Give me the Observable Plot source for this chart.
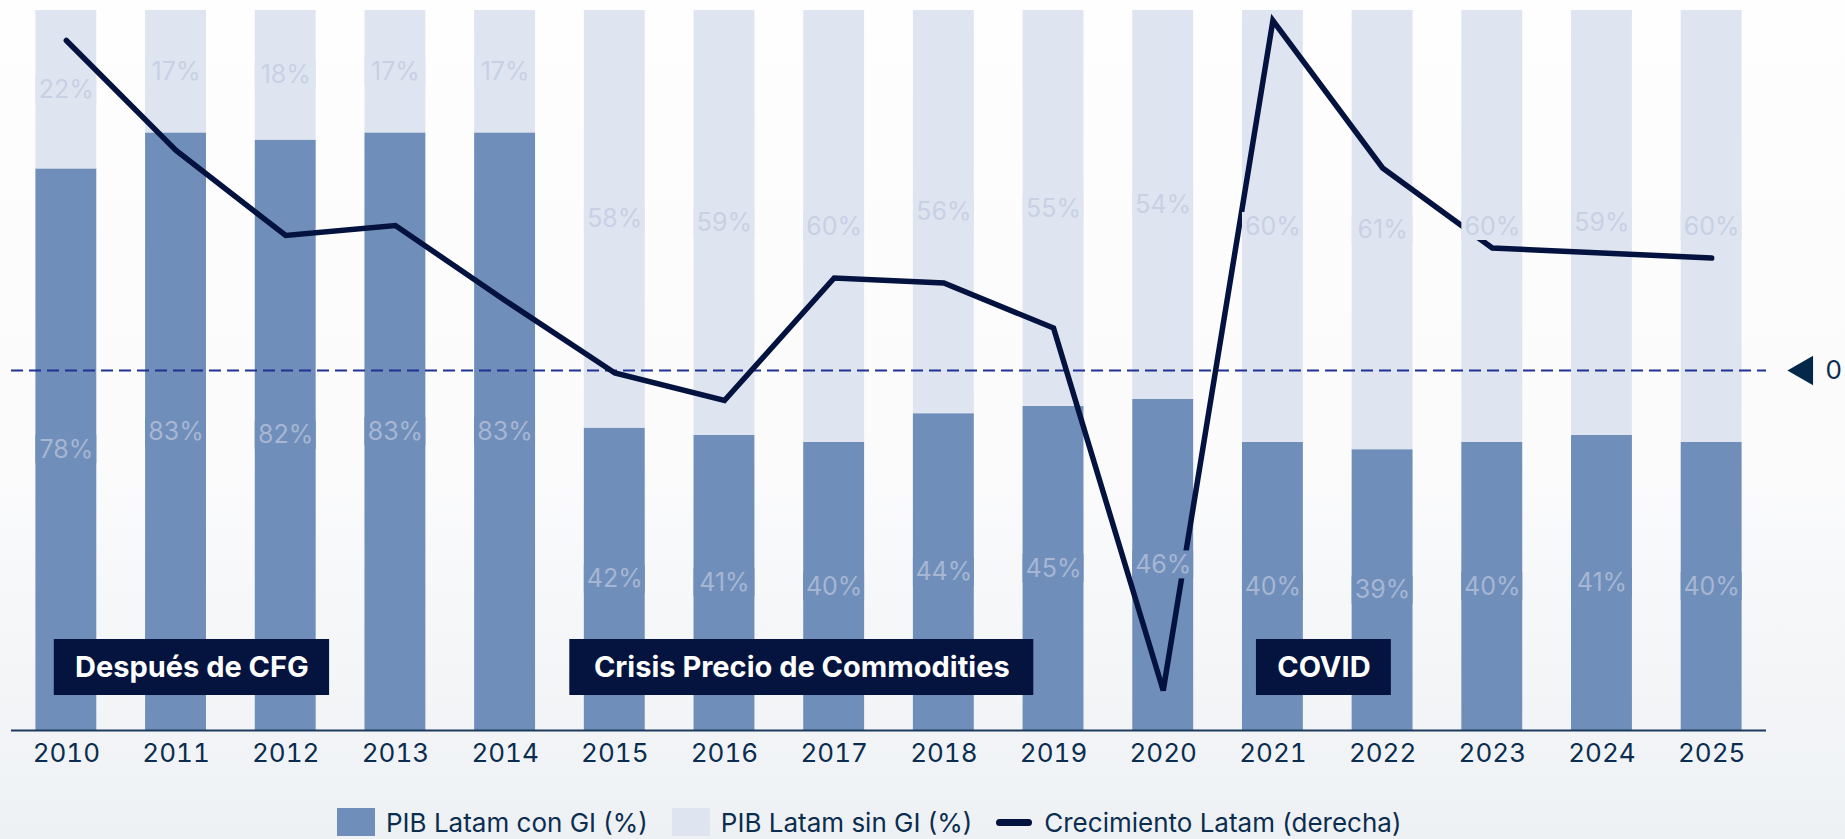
<!DOCTYPE html>
<html>
<head>
<meta charset="utf-8">
<script src="https://cdn.jsdelivr.net/npm/d3@7"></script>
<script src="https://cdn.jsdelivr.net/npm/@observablehq/plot@0.6"></script>
<style>
html, body { margin: 0; padding: 0; }
body {
  width: 1845px; height: 839px; overflow: hidden;
  background: linear-gradient(to bottom, #fefefe 0%, #fbfbfc 55%, #eef1f4 100%);
  font-family: Inter, "Noto Sans", sans-serif;
}
#chart { position: relative; width: 1845px; height: 790px; }
#chart svg { position: absolute; left: 0; top: 0; overflow: visible; }
#legend {
  position: absolute; left: 337px; top: 808px; height: 28px;
  display: flex; align-items: center;
  font-size: 26px; color: #0b2d4f; white-space: nowrap;
}
.item { display: flex; align-items: center; margin-right: 24px; }
.sw { width: 38px; height: 28px; margin-right: 11px; }
.ln { width: 36px; height: 7px; border-radius: 4px; background: #04123f; margin-right: 12px; }
</style>
</head>
<body>
<div id="chart"></div>
<div id="legend"></div>
<script>
// ---------------- data ----------------
const years  = [2010, 2011, 2012, 2013, 2014, 2015, 2016, 2017, 2018, 2019, 2020, 2021, 2022, 2023, 2024, 2025];
const conGI  = [78, 83, 82, 83, 83, 42, 41, 40, 44, 45, 46, 40, 39, 40, 41, 40];
const sinGI  = [22, 17, 18, 17, 17, 58, 59, 60, 56, 55, 54, 60, 61, 60, 59, 60];
const growth = [6.6, 4.4, 2.7, 2.9, 1.4, -0.05, -0.6, 1.85, 1.75, 0.85, -6.4, 7.0, 4.05, 2.45, 2.35, 2.25];
const seriesNames = ["PIB Latam con GI (%)", "PIB Latam sin GI (%)", "Crecimiento Latam (derecha)"];
const annLabels = ["Después de CFG", "Crisis Precio de Commodities", "COVID"];
const annFrom   = [2009.89, 2014.59, 2020.85];
const annTo     = [2012.40, 2018.82, 2022.08];

// ---------------- style ----------------
const W = 1845, H = 790;
const M = {top: 10, right: 79, bottom: 60, left: 11};
const colCon = "#6f8eba", colSin = "#dfe5f0", colLine = "#04123f";
const txtCon = "#a6b6d3", txtSin = "#c8d0e4", navy = "#0b2d4f";
const pxPerPct = (H - M.top - M.bottom) / 100;
const labelHalf = 14 / pxPerPct;        // label background half-height (14px)
const annY1 = 4.86, annY2 = 12.64;      // annotation boxes, in % units
const barInset = 24.4;

// table built from arrays
const rows = years.flatMap((y, i) => [
  {year: y, serie: "con", y1: 0, y2: conGI[i], mid: conGI[i] / 2, value: conGI[i]},
  {year: y, serie: "sin", y1: conGI[i], y2: conGI[i] + sinGI[i], mid: conGI[i] + sinGI[i] / 2, value: sinGI[i]}
]);
const lineData = years.map((y, i) => ({year: y, g: growth[i]}));
const ann = annLabels.map((l, i) => ({label: l, x1: annFrom[i], x2: annTo[i]}));

const base = {
  width: W, height: H,
  marginTop: M.top, marginRight: M.right, marginBottom: M.bottom, marginLeft: M.left,
  style: {background: "transparent", fontFamily: "Inter, 'Noto Sans', sans-serif", overflow: "visible"}
};
const xOpt = {domain: [years[0] - 0.5, years[years.length - 1] + 0.5], axis: null};

// Plot A: bars + x axis
const plotA = Plot.plot({
  ...base,
  x: xOpt,
  y: {domain: [0, 100], axis: null},
  marks: [
    Plot.rect(rows, {
      x1: d => d.year - 0.5, x2: d => d.year + 0.5, y1: "y1", y2: "y2",
      fill: d => d.serie === "con" ? colCon : colSin,
      insetLeft: barInset, insetRight: barInset
    }),
    Plot.ruleY([0], {stroke: "#1d3b5c", strokeWidth: 2}),
    Plot.axisX({ticks: years, tickFormat: d => String(d), tickSize: 0, tickPadding: 13,
      fontSize: 26, fill: navy, label: null})
  ]
});

// Plot B: growth line on right scale
const plotB = Plot.plot({
  ...base,
  x: xOpt,
  y: {domain: [-7.2, 7.2], axis: null},
  marks: [
    Plot.ruleY([0], {stroke: "#1f3192", strokeWidth: 2.2, strokeDasharray: "12,6"}),
    Plot.line(lineData, {x: "year", y: "g", stroke: colLine, strokeWidth: 5.5,
      strokeLinecap: "round", strokeLinejoin: "miter", strokeMiterlimit: 4}),
    Plot.dot([0], {y: d => d, frameAnchor: "right", dx: 38, symbol: "triangle", r: 11,
      rotate: -90, fill: "#03284a"}),
    Plot.text([0], {y: d => d, frameAnchor: "right", dx: 59, text: d => String(d),
      textAnchor: "start", fontSize: 26, fill: navy})
  ]
});

// Plot C: labels with background boxes + annotations
const plotC = Plot.plot({
  ...base,
  x: xOpt,
  y: {domain: [0, 100], axis: null},
  marks: [
    Plot.rect(rows, {
      x1: d => d.year - 0.5, x2: d => d.year + 0.5,
      y1: d => d.mid - labelHalf, y2: d => d.mid + labelHalf,
      fill: d => d.serie === "con" ? colCon : colSin,
      insetLeft: barInset, insetRight: barInset
    }),
    Plot.text(rows, {x: "year", y: "mid", text: d => d.value + "%",
      fill: d => d.serie === "con" ? txtCon : txtSin, fontSize: 25}),
    Plot.rect(ann, {x1: "x1", x2: "x2", y1: () => annY1, y2: () => annY2, fill: "#04143f"}),
    Plot.text(ann, {x: d => (d.x1 + d.x2) / 2, y: () => (annY1 + annY2) / 2, text: "label",
      fill: "white", fontSize: 29, fontWeight: "bold"})
  ]
});

const chart = document.getElementById("chart");
chart.append(plotA, plotB, plotC);

// legend
const legend = document.getElementById("legend");
legend.innerHTML =
  `<div class="item"><div class="sw" style="background:${colCon}"></div><span>${seriesNames[0]}</span></div>` +
  `<div class="item"><div class="sw" style="background:${colSin}"></div><span>${seriesNames[1]}</span></div>` +
  `<div class="item"><div class="ln"></div><span>${seriesNames[2]}</span></div>`;
</script>
</body>
</html>
